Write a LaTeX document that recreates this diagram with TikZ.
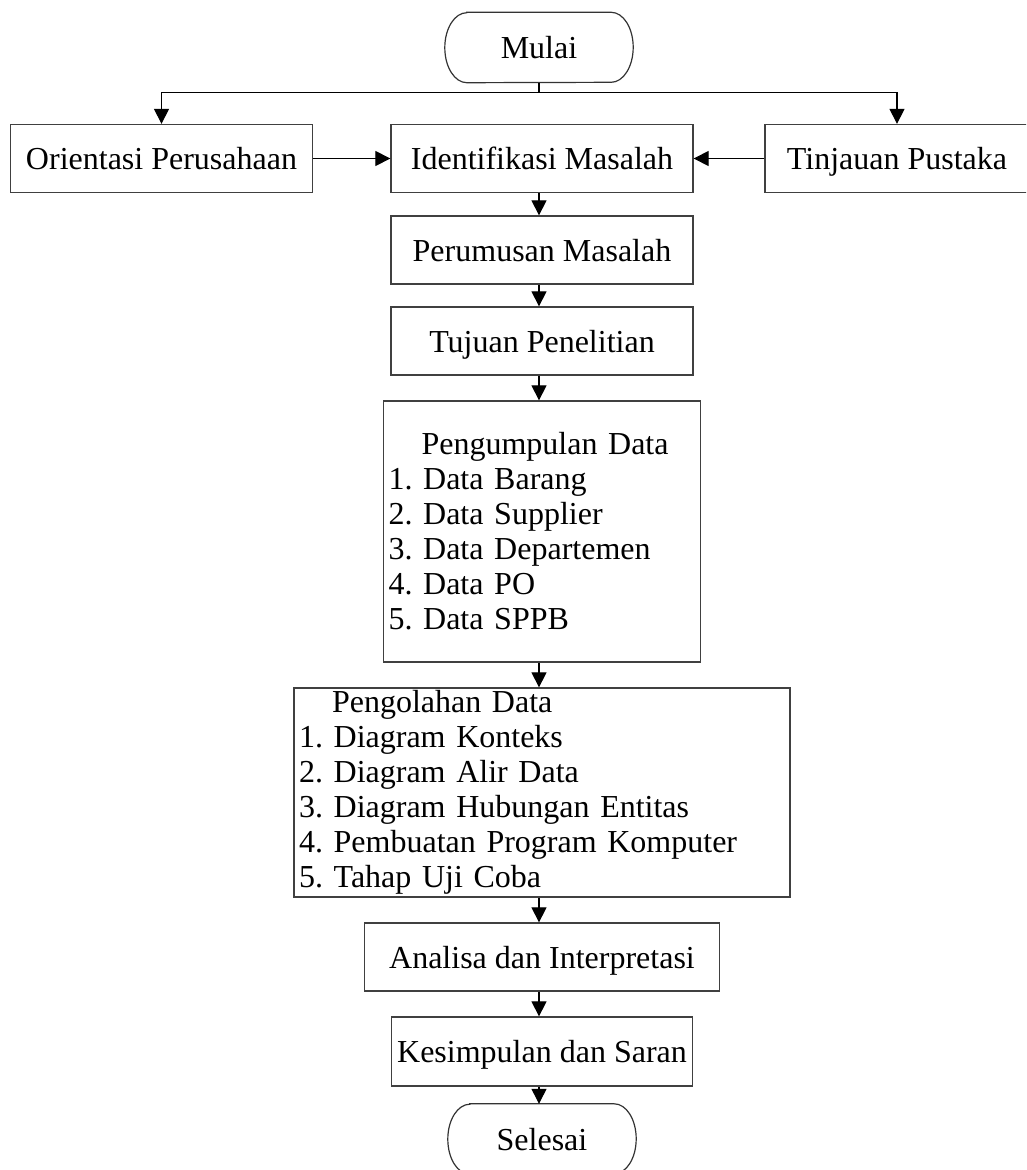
\documentclass[tikz,border=0pt]{standalone}
\usepackage{fontspec}
\setmainfont{Liberation Serif}
\usetikzlibrary{arrows.meta,calc}
\frenchspacing
\tikzset{
  box/.style={draw=black!75, line width=1.3pt, rectangle, inner sep=0pt,
    font=\fontsize{32}{35}\selectfont},
  onebox/.style={box, text height=22pt, text depth=0pt},
  listbox/.style={box, align=left, inner xsep=5pt},
  term/.style={rectangle, draw=none, inner sep=0pt, minimum width=188pt,
    minimum height=70pt, text height=22pt, text depth=0pt,
    font=\fontsize{32}{35}\selectfont},
  termline/.style={draw=black!80, line width=1.2pt},
  flow/.style={draw=black, line width=1.2pt, -{Triangle[length=15pt,width=15pt]}},
  link/.style={draw=black, line width=1.2pt}
}
\begin{document}
\begin{tikzpicture}[x=1pt, y=-1pt]
\useasboundingbox (0,0) rectangle (1026,1170);
\clip (0,0) rectangle (1026,1170);
\fill[white] (0,0) rectangle (1026,1170);

% terminals
\node[term] (mulai) at (539,47.5) {Mulai};
\node[term] (selesai) at (542,1139) {Selesai};
\foreach \t in {mulai,selesai}{
  \draw[termline] ([xshift=22pt]\t.north west) -- ([xshift=-22pt]\t.north east)
    arc[start angle=90, end angle=-90, x radius=22pt, y radius=35pt]
    -- ([xshift=22pt]\t.south west)
    arc[start angle=270, end angle=90, x radius=22pt, y radius=35pt] -- cycle;
}

% top row
\node[onebox, minimum width=302pt, minimum height=68pt] (orient) at (161.5,158.5) {Orientasi Perusahaan};
\node[onebox, minimum width=302pt, minimum height=68pt] (ident) at (542,158.5) {Identifikasi Masalah};
\node[onebox, minimum width=264pt, minimum height=68pt] (tinjau) at (897,158.5) {Tinjauan Pustaka};

% main column
\node[onebox, minimum width=302pt, minimum height=68pt] (rumus) at (542,250) {Perumusan Masalah};
\node[onebox, minimum width=302pt, minimum height=68pt] (tujuan) at (542,341) {Tujuan Penelitian};
\node[listbox, minimum height=261pt, text width=307pt] (kumpul) at (542,531.5)
  {\hspace*{33pt}Pengumpulan Data\\
   1. Data Barang\\
   2. Data Supplier\\
   3. Data Departemen\\
   4. Data PO\\
   5. Data SPPB};
\node[listbox, minimum height=209pt, text width=486pt] (olah) at (542,792.5)
  {\hspace*{33pt}Pengolahan Data\\
   1. Diagram Konteks\\
   2. Diagram Alir Data\\
   3. Diagram Hubungan Entitas\\
   4. Pembuatan Program Komputer\\
   5. Tahap Uji Coba};
\node[onebox, minimum width=355pt, minimum height=68pt] (analisa) at (542,957) {Analisa dan Interpretasi};
\node[onebox, minimum width=301pt, minimum height=69pt] (kesimp) at (542,1051.5) {Kesimpulan dan Saran};

% connectors
\coordinate (split) at ($(mulai.south)+(0,10)$);
\draw[link] (mulai.south) -- (split);
\draw[flow] (split) -| (orient.north);
\draw[flow] (split) -| (tinjau.north);
\draw[flow] (orient.east) -- (ident.west);
\draw[flow] (tinjau.west) -- (ident.east);
\draw[flow] (ident.south -| mulai) -- (rumus.north -| mulai);
\draw[flow] (rumus.south -| mulai) -- (tujuan.north -| mulai);
\draw[flow] (tujuan.south -| mulai) -- (kumpul.north -| mulai);
\draw[flow] (kumpul.south -| mulai) -- (olah.north -| mulai);
\draw[flow] (olah.south -| mulai) -- (analisa.north -| mulai);
\draw[flow] (analisa.south -| mulai) -- (kesimp.north -| mulai);
\draw[flow] (kesimp.south -| mulai) -- (selesai.north -| mulai);
\end{tikzpicture}
\end{document}
